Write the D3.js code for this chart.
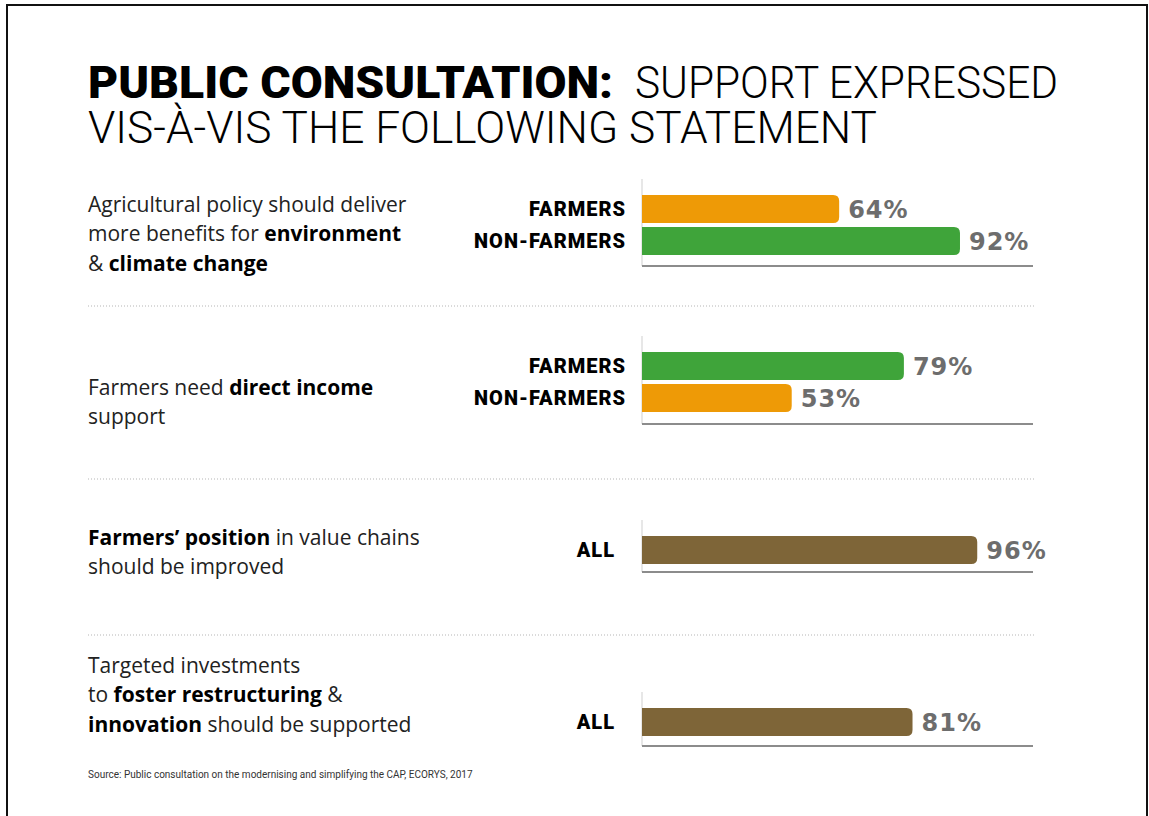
<!DOCTYPE html>
<html>
<head>
<meta charset="utf-8">
<script src="https://cdn.jsdelivr.net/npm/d3@7"></script>
<style>
  body { margin: 0; background: #fff; }
  svg { display: block; }
</style>
</head>
<body>
<div id="chart"></div>
<script>
// statements: each line is a list of [text, bold] pieces
const statements = [
  [
    [["Agricultural policy should deliver", 0]],
    [["more benefits for ", 0], ["environment", 1]],
    [["& ", 0], ["climate change", 1]]
  ],
  [
    [["Farmers need ", 0], ["direct income", 1]],
    [["support", 0]]
  ],
  [
    [["Farmers\u2019 position", 1], [" in value chains", 0]],
    [["should be improved", 0]]
  ],
  [
    [["Targeted investments", 0]],
    [["to ", 0], ["foster restructuring", 1], [" &", 0]],
    [["innovation", 1], [" should be supported", 0]]
  ]
];
const barLabels = [["FARMERS", "NON-FARMERS"], ["FARMERS", "NON-FARMERS"], ["ALL"], ["ALL"]];
const barValues = [[64, 92], [79, 53], [96], [81]];

const titleBold = "PUBLIC CONSULTATION:";
const titleLight1 = "SUPPORT EXPRESSED";
const titleLight2 = "VIS-\u00C0-VIS THE FOLLOWING STATEMENT";
const source = "Source: Public consultation on the modernising and simplifying the CAP, ECORYS, 2017";

// layout (pixels)
const rowLayout = [
  { barTop: 195, textY: 212, base: 266, labelX: 626 },
  { barTop: 352, textY: 395, base: 424, labelX: 626 },
  { barTop: 536, textY: 545, base: 572, labelX: 615 },
  { barTop: 708, textY: 673, base: 746, labelX: 615 }
];
const separators = [306, 479, 635];
const barH = 28, barStep = 32, radius = 6;
const orange = "#ee9a06", green = "#3fa43a", brown = "#7e6538";

const width = 1149, height = 816;
const svg = d3.select("#chart").append("svg")
  .attr("width", width)
  .attr("height", height);

svg.append("rect")
  .attr("x", 7).attr("y", 5)
  .attr("width", 1140).attr("height", 830)
  .attr("fill", "none")
  .attr("stroke", "#111")
  .attr("stroke-width", 2);

// title, one text block
const title = svg.append("text")
  .attr("font-family", "Roboto, sans-serif")
  .attr("font-size", 45)
  .attr("fill", "#000");
title.append("tspan")
  .attr("x", 88).attr("y", 98)
  .attr("font-weight", 900)
  .attr("textLength", 525)
  .attr("lengthAdjust", "spacingAndGlyphs")
  .text(titleBold);
title.append("tspan")
  .attr("x", 635).attr("y", 98)
  .attr("font-weight", 300)
  .attr("textLength", 423)
  .attr("lengthAdjust", "spacingAndGlyphs")
  .text(titleLight1);
title.append("tspan")
  .attr("x", 88).attr("y", 143)
  .attr("font-weight", 300)
  .attr("textLength", 789)
  .attr("lengthAdjust", "spacingAndGlyphs")
  .text(titleLight2);

// x scale (the original bars are not drawn from zero)
const x = d3.scaleLinear().domain([18.3, 100]).range([642, 994.5]);

// separators
svg.selectAll("line.sep")
  .data(separators)
  .enter()
  .append("line")
  .attr("class", "sep")
  .attr("x1", 88).attr("x2", 1035)
  .attr("y1", d => d).attr("y2", d => d)
  .attr("stroke", "#b5b5b5")
  .attr("stroke-width", 1)
  .attr("stroke-dasharray", "1,2");

function barPath(x0, x1, y, h, r) {
  return `M${x0},${y}H${x1 - r}Q${x1},${y} ${x1},${y + r}V${y + h - r}Q${x1},${y + h} ${x1 - r},${y + h}H${x0}Z`;
}

statements.forEach((lines, i) => {
  const lay = rowLayout[i];
  const values = barValues[i];
  const g = svg.append("g");

  // statement text
  const t = g.append("text")
    .attr("font-family", "'Open Sans', sans-serif")
    .attr("font-size", 21)
    .attr("fill", "#222");
  lines.forEach((pieces, li) => {
    pieces.forEach((p, pi) => {
      const ts = t.append("tspan")
        .attr("font-weight", p[1] ? 700 : 400)
        .attr("fill", p[1] ? "#000" : "#222")
        .text(p[0]);
      if (pi === 0) ts.attr("x", 88).attr("y", lay.textY + li * 29.3);
    });
  });

  // vertical tick and baseline
  g.append("line")
    .attr("x1", x.range()[0]).attr("x2", x.range()[0])
    .attr("y1", lay.barTop - 16).attr("y2", lay.base)
    .attr("stroke", "#cfcfcf").attr("stroke-width", 1);
  g.append("line")
    .attr("x1", x.range()[0]).attr("x2", 1033)
    .attr("y1", lay.base).attr("y2", lay.base)
    .attr("stroke", "#8c8c8c").attr("stroke-width", 2);

  const maxV = d3.max(values);
  const colorOf = v => values.length === 1 ? brown : (v === maxV ? green : orange);

  g.selectAll("path.bar")
    .data(values)
    .enter()
    .append("path")
    .attr("class", "bar")
    .attr("d", (d, j) => barPath(x.range()[0], x(d), lay.barTop + j * barStep, barH, radius))
    .attr("fill", d => colorOf(d));

  g.selectAll("text.val")
    .data(values)
    .enter()
    .append("text")
    .attr("class", "val")
    .attr("x", d => x(d) + 9)
    .attr("y", (d, j) => lay.barTop + j * barStep + barH / 2 + 9)
    .attr("font-family", "DejaVu Sans, sans-serif")
    .attr("font-weight", 700)
    .attr("font-size", 24)
    .attr("letter-spacing", 1)
    .attr("fill", "#6d6d6d")
    .text(d => d + "%");

  g.selectAll("text.lab")
    .data(barLabels[i])
    .enter()
    .append("text")
    .attr("class", "lab")
    .attr("x", lay.labelX)
    .attr("y", (d, j) => lay.barTop + j * barStep + barH / 2 + 7)
    .attr("text-anchor", "end")
    .attr("font-family", "Roboto, sans-serif")
    .attr("font-weight", 900)
    .attr("font-size", 20)
    .attr("letter-spacing", 1)
    .attr("fill", "#000")
    .text(d => d);
});

svg.append("text")
  .attr("x", 88).attr("y", 778)
  .attr("font-family", "Roboto, sans-serif")
  .attr("font-size", 10)
  .attr("fill", "#333")
  .text(source);
</script>
</body>
</html>
